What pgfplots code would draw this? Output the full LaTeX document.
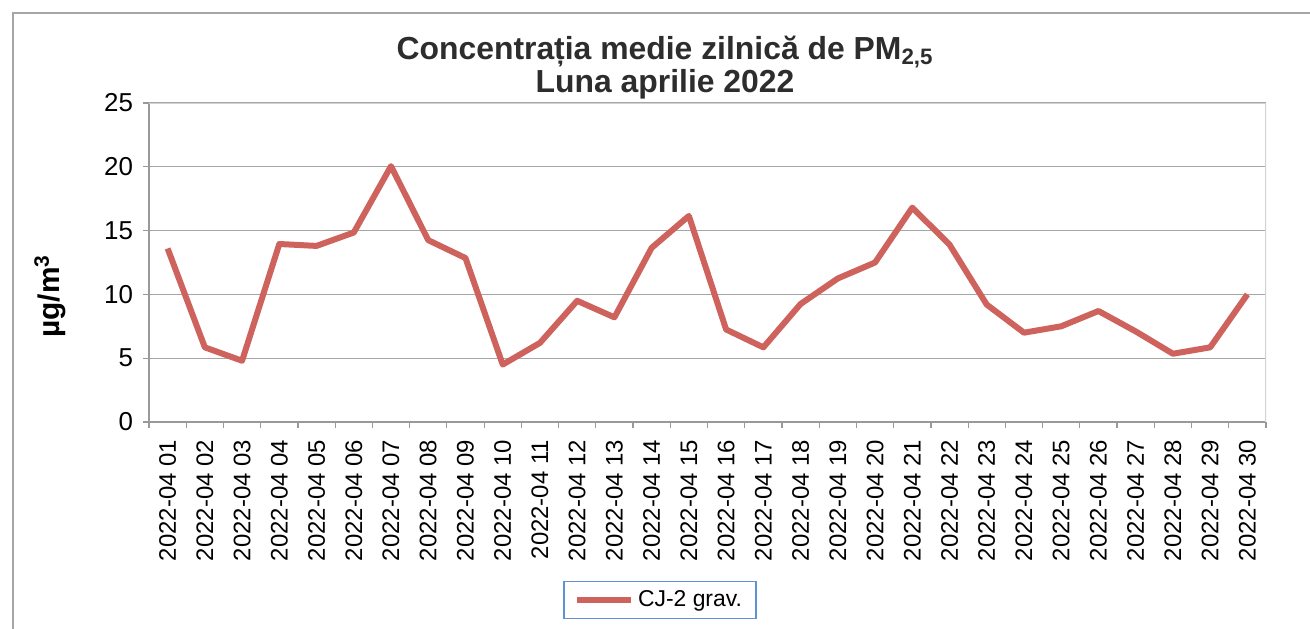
\documentclass[border=0pt]{standalone}
\usepackage{pgfplots}
\pgfplotsset{compat=1.18}
\usepackage{fontspec}
\setmainfont{Liberation Sans}

\definecolor{pmline}{RGB}{206,98,93}
\definecolor{legblue}{RGB}{95,145,215}
\definecolor{titlegray}{RGB}{45,45,45}

\begin{document}
\begin{tikzpicture}
\useasboundingbox (-74.5bp,-103.5bp) rectangle (580.5bp,211bp);
% outer chart frame (scan border)
\draw[gray!70, line width=0.6bp] (-68bp,-103.5bp) -- (-68bp,204.5bp) -- (580.5bp,204.5bp);
\begin{axis}[
    scale only axis,
    width=558.5bp,
    height=159.5bp,
    xmin=0.5, xmax=30.5,
    ymin=0, ymax=25,
    axis x line*=bottom,
    axis y line*=left,
    axis line style={-, draw=gray!80, line width=0.6bp},
    xtick={1,...,30},
    xticklabels={2022-04 01,2022-04 02,2022-04 03,2022-04 04,2022-04 05,2022-04 06,
        2022-04 07,2022-04 08,2022-04 09,2022-04 10,2022-04 11,2022-04 12,
        2022-04 13,2022-04 14,2022-04 15,2022-04 16,2022-04 17,2022-04 18,
        2022-04 19,2022-04 20,2022-04 21,2022-04 22,2022-04 23,2022-04 24,
        2022-04 25,2022-04 26,2022-04 27,2022-04 28,2022-04 29,2022-04 30},
    xtick style={draw=none},
    minor xtick={0.5,1.5,...,30.5},
    minor x tick style={draw=gray!80, line width=0.6bp},
    ytick={0,5,...,25},
    y tick style={draw=gray!80, line width=0.6bp},
    tick align=outside,
    major tick length=3bp,
    minor tick length=3bp,
    ymajorgrids=true,
    grid style={gray!70, line width=0.6bp},
    /pgf/number format/assume math mode=true,
    y tick label style={font=\fontsize{13}{15}\selectfont},
    yticklabel shift=1.5bp,
    x tick label style={rotate=90, anchor=east, font=\fontsize{12}{14}\selectfont},
    xticklabel shift=2.5bp,
    title={Concentrația medie zilnică de PM\textsubscript{2,5}\\Luna aprilie 2022},
    title style={at={(0.462,1)}, anchor=south, yshift=-4bp, inner sep=0pt,
        align=center, text=titlegray, font=\bfseries\fontsize{16}{16.5}\selectfont},
    ylabel={µg/m\textsuperscript{3}},
    ylabel style={at={(axis description cs:-0.0886,0.395)}, anchor=center,
        font=\bfseries\fontsize{15}{17}\selectfont},
    legend style={at={(0.4575,-0.558)}, anchor=center, draw=legblue, line width=0.6bp,
        inner xsep=5bp, inner ysep=2.5bp, font=\fontsize{11.5}{13}\selectfont},
    legend image code/.code={\draw[#1] (0bp,0bp) -- (27bp,0bp);},
]
\draw[gray!35, line width=0.6bp] (rel axis cs:0,1) -- (rel axis cs:1,1) -- (rel axis cs:1,0);
\addplot[pmline, line width=3bp, line join=round] coordinates {
    (1,13.6) (2,5.85) (3,4.8) (4,13.95) (5,13.8) (6,14.85) (7,20.05) (8,14.25)
    (9,12.85) (10,4.5) (11,6.2) (12,9.5) (13,8.2) (14,13.65) (15,16.15)
    (16,7.25) (17,5.85) (18,9.25) (19,11.25) (20,12.5) (21,16.8) (22,13.9)
    (23,9.2) (24,7.0) (25,7.5) (26,8.7) (27,7.1) (28,5.35) (29,5.85) (30,10.0)
};
\addlegendentry{CJ-2 grav.}
\end{axis}
\end{tikzpicture}
\end{document}
